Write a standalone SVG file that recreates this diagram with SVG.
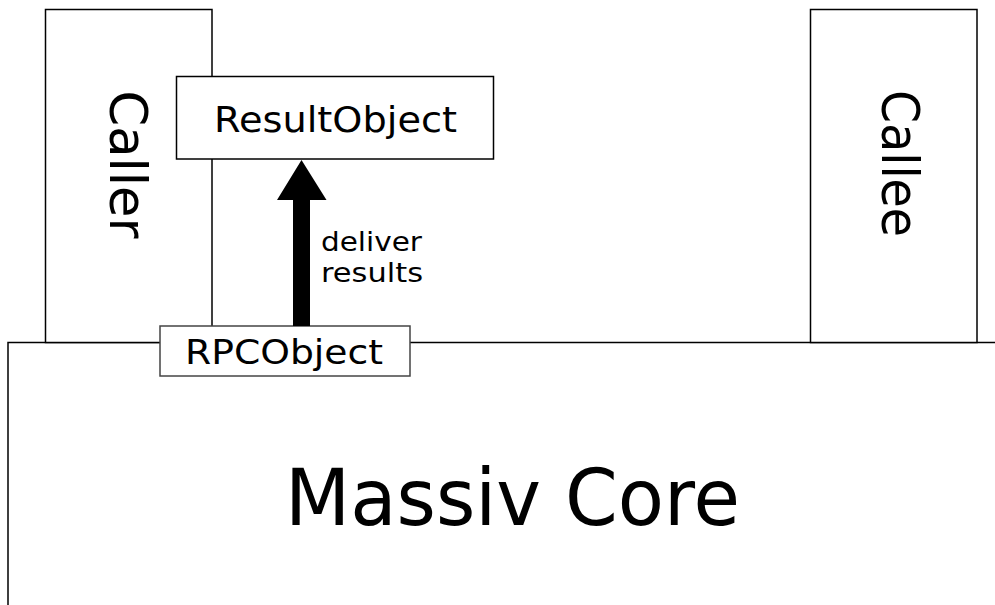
<svg xmlns="http://www.w3.org/2000/svg" width="995" height="605" viewBox="0 0 995 605">
<style>
.box{fill:#fff;stroke:#000;stroke-width:1.5}
.obj{fill:#fff;stroke:#444;stroke-width:1.5}
.t{font-family:"DejaVu Sans","Liberation Sans",sans-serif;fill:#000}
</style>
<rect width="995" height="605" fill="#fff"/>
<g id="core">
<path d="M8,605 V342.5 H995" fill="none" stroke="#000" stroke-width="1.5"/>
<text class="t" x="512.5" y="525" font-size="78" text-anchor="middle" textLength="455" lengthAdjust="spacingAndGlyphs">Massiv Core</text>
</g>
<g id="caller">
<rect class="box" x="45.5" y="9.5" width="166.5" height="333"/>
<text class="t" x="110" y="164.5" font-size="51" text-anchor="middle" transform="rotate(90 110 164.5)" textLength="148" lengthAdjust="spacingAndGlyphs">Caller</text>
</g>
<g id="callee">
<rect class="box" x="810.5" y="9.5" width="166.5" height="333"/>
<text class="t" x="882" y="163.5" font-size="51" text-anchor="middle" transform="rotate(90 882 163.5)" textLength="147" lengthAdjust="spacingAndGlyphs">Callee</text>
</g>
<g id="resultobject">
<rect class="box" x="176.5" y="76.5" width="317" height="82.5"/>
<text class="t" x="335.5" y="132" font-size="35" text-anchor="middle" textLength="243" lengthAdjust="spacingAndGlyphs">ResultObject</text>
</g>
<g id="rpcobject">
<rect class="obj" x="160" y="326" width="250" height="50"/>
<text class="t" x="284" y="364" font-size="33" text-anchor="middle" textLength="198" lengthAdjust="spacingAndGlyphs">RPCObject</text>
</g>
<g id="connectors">
<polygon points="293,326 293,200 277,200 301.5,160 326.5,200 310,200 310,326" fill="#000"/>
<text class="t" x="321" y="251" font-size="26" textLength="101" lengthAdjust="spacingAndGlyphs">deliver</text>
<text class="t" x="321" y="282" font-size="26" textLength="102" lengthAdjust="spacingAndGlyphs">results</text>
</g>
</svg>
